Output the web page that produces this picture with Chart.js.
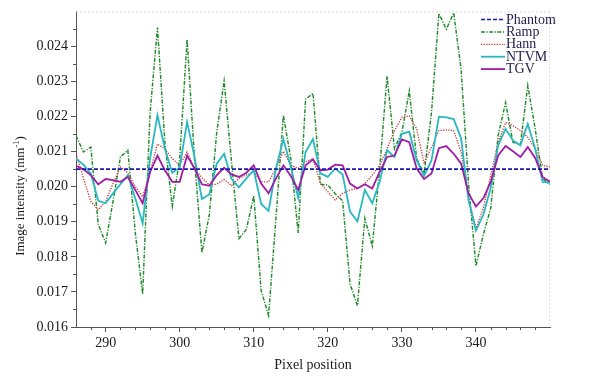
<!DOCTYPE html>
<html><head><meta charset="utf-8">
<script src="https://cdn.jsdelivr.net/npm/chart.js@4/dist/chart.umd.min.js"></script>
<style>html,body{margin:0;padding:0;background:#fff;}#wrap{width:591px;height:376px;}</style>
</head><body><div id="wrap"><canvas id="c" width="591" height="376"></canvas></div>
<script>
// ---- data ----
const pixelPositions = [286,287,288,289,290,291,292,293,294,295,296,297,298,299,300,301,302,303,304,305,306,307,308,309,310,311,312,313,314,315,316,317,318,319,320,321,322,323,324,325,326,327,328,329,330,331,332,333,334,335,336,337,338,339,340,341,342,343,344,345,346,347,348,349,350];
const phantom = [0.0205,0.0205,0.0205,0.0205,0.0205,0.0205,0.0205,0.0205,0.0205,0.0205,0.0205,0.0205,0.0205,0.0205,0.0205,0.0205,0.0205,0.0205,0.0205,0.0205,0.0205,0.0205,0.0205,0.0205,0.0205,0.0205,0.0205,0.0205,0.0205,0.0205,0.0205,0.0205,0.0205,0.0205,0.0205,0.0205,0.0205,0.0205,0.0205,0.0205,0.0205,0.0205,0.0205,0.0205,0.0205,0.0205,0.0205,0.0205,0.0205,0.0205,0.0205,0.0205,0.0205,0.0205,0.0205,0.0205,0.0205,0.0205,0.0205,0.0205,0.0205,0.0205,0.0205,0.0205,0.0205];
const ramp = [0.02146,0.02099,0.02113,0.01893,0.01840,0.01958,0.02085,0.02104,0.01870,0.01694,0.02210,
  0.02454,0.02127,0.01944,0.02080,0.02420,0.02080,0.01812,0.01920,0.02155,0.02301,0.02070,
  0.01852,0.01878,0.01974,0.01704,0.01633,0.01910,0.02204,0.02080,0.01868,0.02250,0.02266,
  0.02007,0.02005,0.01980,0.01960,0.01723,0.01661,0.01910,0.01831,0.02050,0.02315,0.02108,
  0.02155,0.02273,0.02080,0.02038,0.02212,0.02494,0.02449,0.02496,0.02334,0.02010,0.01774,
  0.01864,0.01939,0.02146,0.02240,0.02127,0.02120,0.02289,0.02165,0.02023,0.02006];
const hann = [0.02094,0.02024,0.01958,0.01934,0.01958,0.02009,0.02056,0.02040,0.02000,0.01972,0.02042,
  0.02122,0.02108,0.02080,0.02061,0.02099,0.02052,0.02026,0.02005,0.02007,0.02021,0.02003,
  0.02024,0.02033,0.02042,0.02014,0.02014,0.02052,0.02101,0.02061,0.02052,0.02071,0.02080,
  0.02009,0.01986,0.01962,0.01981,0.01991,0.01995,0.02009,0.02033,0.02061,0.02108,0.02160,
  0.02198,0.02202,0.02165,0.02066,0.02113,0.02160,0.02162,0.02160,0.02099,0.01967,0.01882,
  0.01939,0.02033,0.02127,0.02183,0.02174,0.02160,0.02141,0.02108,0.02061,0.02056];
const ntvm = [0.02080,0.02063,0.02038,0.01960,0.01953,0.01981,0.02007,0.02033,0.01967,0.01896,0.02080,
  0.02204,0.02108,0.02040,0.02055,0.02185,0.02085,0.01965,0.01978,0.02066,0.02094,0.02022,
  0.01998,0.02024,0.02047,0.01951,0.01931,0.02052,0.02136,0.02056,0.01969,0.02099,0.02136,
  0.02038,0.02028,0.02052,0.02035,0.01929,0.01901,0.01991,0.01953,0.02014,0.02104,0.02085,
  0.02151,0.02157,0.02075,0.02031,0.02075,0.02200,0.02198,0.02193,0.02138,0.01962,0.01875,
  0.01920,0.01997,0.02118,0.02165,0.02132,0.02118,0.02179,0.02108,0.02014,0.02012];
const tgv = [0.02060,0.02050,0.02033,0.02007,0.02022,0.02019,0.02014,0.02028,0.01991,0.01953,0.02042,
  0.02089,0.02047,0.02014,0.02014,0.02089,0.02052,0.02007,0.02003,0.02033,0.02054,0.02035,
  0.02028,0.02040,0.02061,0.02009,0.01981,0.02024,0.02061,0.02031,0.01991,0.02061,0.02078,
  0.02047,0.02049,0.02063,0.02061,0.02009,0.01995,0.02007,0.01995,0.02042,0.02085,0.02089,
  0.02135,0.02127,0.02052,0.02022,0.02038,0.02110,0.02116,0.02094,0.02066,0.01981,0.01944,
  0.01967,0.02014,0.02089,0.02116,0.02101,0.02085,0.02113,0.02082,0.02028,0.02014];
const seriesNames = ['Phantom','Ramp','Hann','NTVM','TGV'];
const xTickValues = [290,300,310,320,330,340];
const xMinorTicks = [288,292,294,296,298,302,304,306,308,312,314,316,318,322,324,326,328,332,334,336,338,342,344,346,348];
const yTickValues = [0.016,0.017,0.018,0.019,0.020,0.021,0.022,0.023,0.024];
const yMinorTicks = [0.0165,0.0175,0.0185,0.0195,0.0205,0.0215,0.0225,0.0235,0.0245];
const xTitle = 'Pixel position';
const yTitleMain = 'Image intensity (mm';
const yTitleSup = '-1';
const yTitleEnd = ')';

// ---- chart ----
const SERIF = '"Liberation Serif", "DejaVu Serif", serif';
const pts = arr => pixelPositions.map((p, i) => ({x: p, y: arr[i]}));
const styles = [
  {color:'#1a1aaa', dash:[4,2], width:1.7, order:0},
  {color:'#1f8a28', dash:[4,1.5,1.2,1.5], width:1.45, order:4},
  {color:'#cc3636', dash:[1.3,1.3], width:1.25, order:3},
  {color:'#28b8c0', dash:[], width:1.8, order:2},
  {color:'#a01ca6', dash:[], width:1.8, order:1}
];
const seriesData = [phantom, ramp, hann, ntvm, tgv];

const deco = {
  id: 'deco',
  beforeDatasetsDraw(chart) {
    const {ctx, chartArea: a} = chart;
    ctx.save();
    ctx.strokeStyle = '#dcdcdc'; ctx.lineWidth = 1; ctx.setLineDash([2,2]);
    ctx.beginPath();
    ctx.moveTo(a.left, a.top + 0.5); ctx.lineTo(a.right, a.top + 0.5);
    ctx.moveTo(a.right - 0.5, a.top); ctx.lineTo(a.right - 0.5, a.bottom);
    ctx.stroke();
    ctx.restore();
  },
  afterDraw(chart) {
    const {ctx, chartArea: a, scales: {x, y}} = chart;
    ctx.save();
    // minor ticks
    ctx.strokeStyle = '#555'; ctx.lineWidth = 1; ctx.setLineDash([]);
    ctx.beginPath();
    yMinorTicks.forEach(v => { const py = Math.round(y.getPixelForValue(v)) + 0.5; ctx.moveTo(a.left - 3, py); ctx.lineTo(a.left, py); });
    xMinorTicks.forEach(v => { const px = Math.round(x.getPixelForValue(v)) + 0.5; ctx.moveTo(px, a.bottom); ctx.lineTo(px, a.bottom + 3); });
    ctx.stroke();
    // axis titles
    ctx.fillStyle = '#1a1a1a';
    ctx.font = '14px ' + SERIF;
    ctx.textAlign = 'center'; ctx.textBaseline = 'middle';
    ctx.fillText(xTitle, (a.left + a.right) / 2, 365);
    ctx.save();
    ctx.translate(21, 196); ctx.rotate(-Math.PI / 2);
    ctx.textAlign = 'left'; ctx.textBaseline = 'middle';
    ctx.font = '13px ' + SERIF; const w1 = ctx.measureText(yTitleMain).width; const w3 = ctx.measureText(yTitleEnd).width;
    ctx.font = '8.5px ' + SERIF; const w2 = ctx.measureText(yTitleSup).width;
    let sx = -(w1 + w2 + w3) / 2;
    ctx.font = '13px ' + SERIF; ctx.fillText(yTitleMain, sx, 0); sx += w1;
    ctx.font = '8.5px ' + SERIF; ctx.fillText(yTitleSup, sx, -4); sx += w2;
    ctx.font = '13px ' + SERIF; ctx.fillText(yTitleEnd, sx, 0);
    ctx.restore();
    // legend
    ctx.font = '14px ' + SERIF; ctx.textAlign = 'left'; ctx.textBaseline = 'middle';
    chart.data.datasets.forEach((ds, i) => {
      const ly = 19.5 + i * 12.4;
      ctx.strokeStyle = ds.borderColor; ctx.lineWidth = ds.borderWidth; ctx.setLineDash(ds.borderDash);
      ctx.beginPath(); ctx.moveTo(481, ly); ctx.lineTo(505, ly); ctx.stroke();
      ctx.setLineDash([]);
      ctx.fillStyle = '#1e1e4e';
      ctx.fillText(ds.label, 506, ly + 0.5);
    });
    ctx.restore();
  }
};

new Chart(document.getElementById('c'), {
  type: 'line',
  data: {
    datasets: seriesNames.map((n, i) => ({
      label: n, data: pts(seriesData[i]),
      borderColor: styles[i].color, backgroundColor: styles[i].color,
      borderDash: styles[i].dash, borderWidth: styles[i].width, order: styles[i].order,
      pointRadius: 0, tension: 0, fill: false
    }))
  },
  options: {
    responsive: false, animation: false, devicePixelRatio: 1,
    layout: {padding: {top: 8, right: 41, left: 0, bottom: 0}},
    plugins: {legend: {display: false}, tooltip: {enabled: false}},
    scales: {
      x: {
        type: 'linear', min: 286, max: 350,
        afterBuildTicks: s => { s.ticks = xTickValues.map(v => ({value: v})); },
        afterFit: s => { s.height = 49; },
        grid: {drawOnChartArea: false, drawTicks: true, tickLength: 5, color: '#555', tickColor: '#555'},
        border: {display: true, color: '#555', width: 1},
        ticks: {font: {family: SERIF, size: 14}, color: '#1a1a1a', padding: 3, maxRotation: 0, autoSkip: false, callback: v => String(v)}
      },
      y: {
        type: 'linear', min: 0.016, max: 0.025,
        afterBuildTicks: s => { s.ticks = yTickValues.map(v => ({value: v})); },
        afterFit: s => { s.width = 76; },
        grid: {drawOnChartArea: false, drawTicks: true, tickLength: 5, color: '#555', tickColor: '#555'},
        border: {display: true, color: '#555', width: 1},
        ticks: {font: {family: SERIF, size: 14}, color: '#1a1a1a', padding: 3, autoSkip: false, callback: v => Number(v).toFixed(3)}
      }
    }
  },
  plugins: [deco]
});
</script></body></html>
